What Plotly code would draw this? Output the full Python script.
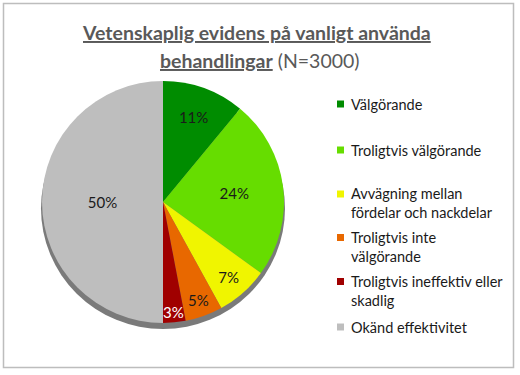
import plotly.graph_objects as go

labels = ["Välgörande", "Troligtvis välgörande", "Avvägning mellan fördelar och nackdelar",
          "Troligtvis inte välgörande", "Troligtvis ineffektiv eller skadlig", "Okänd effektivitet"]
legend_text = ["Välgörande", "Troligtvis välgörande", "Avvägning mellan<br>fördelar och nackdelar",
               "Troligtvis inte<br>välgörande", "Troligtvis ineffektiv eller<br>skadlig", "Okänd effektivitet"]
values = [11, 24, 7, 5, 3, 50]
colors = ["#008C00", "#66DD00", "#F0F500", "#E86800", "#A00000", "#BEBEBE"]
text_colors = ["#1a1a1a", "#1a1a1a", "#1a1a1a", "#1a1a1a", "#FFFFFF", "#1a1a1a"]
title_line1 = "Vetenskaplig evidens på vanligt använda"
title_line2_bold = "behandlingar"
title_line2_rest = " (N=3000)"

W, H = 520, 375
FONT = "Lato, Open Sans, sans-serif"

fig = go.Figure()
fig.add_trace(go.Pie(
    labels=labels, values=values, sort=False, direction="clockwise", rotation=0,
    marker=dict(colors=colors, line=dict(width=0)),
    texttemplate="%{value}%", textposition="inside", insidetextorientation="horizontal",
    textfont=dict(family=FONT, size=15, color=text_colors),
    domain=dict(x=[40 / W, 286 / W], y=[1 - 323 / H, 1 - 81 / H]),
    showlegend=False, hoverinfo="label+percent",
))

shapes = [
    # outer border
    dict(type="rect", xref="paper", yref="paper", x0=3.5 / W, x1=513.5 / W, y0=1 - 367.5 / H, y1=1 - 3.5 / H,
         line=dict(color="#BDBDBD", width=1.5), fillcolor="rgba(0,0,0,0)"),
    # pie shadow
    dict(type="circle", xref="paper", yref="paper", layer="below",
         x0=41 / W, x1=285 / W, y0=1 - 329 / H, y1=1 - 88 / H,
         line=dict(width=0), fillcolor="#7a7a7a"),
]

annotations = []
legend_y = [104, 150, 203, 246.5, 290.5, 327]
for txt, col, yc in zip(legend_text, colors, legend_y):
    nlines = txt.count("<br>") + 1
    ytop = yc - 9 * (nlines - 1)
    shapes.append(dict(type="rect", xref="paper", yref="paper",
                       x0=337 / W, x1=344 / W, y0=1 - (ytop + 3.5) / H, y1=1 - (ytop - 3.5) / H,
                       line=dict(width=0), fillcolor=col))
    annotations.append(dict(x=349 / W, y=1 - yc / H, xref="paper", yref="paper", text=txt,
                            showarrow=False, xanchor="left", yanchor="middle", align="left",
                            font=dict(family=FONT, size=14.5, color="#1a1a1a")))

title_font = dict(family=FONT, size=19.5, color="#595959")
annotations.append(dict(
    x=0.494, y=1 - 32 / H, xref="paper", yref="paper", showarrow=False, xanchor="center", yanchor="middle",
    text=f"<b><span style='text-decoration:underline'>{title_line1}</span></b>", font=title_font,
))
annotations.append(dict(
    x=0.5, y=1 - 60 / H, xref="paper", yref="paper", showarrow=False, xanchor="center", yanchor="middle",
    text=f"<b><span style='text-decoration:underline'>{title_line2_bold}</span></b>{title_line2_rest}",
    font=title_font,
))

fig.update_layout(
    width=W, height=H, margin=dict(l=0, r=0, t=0, b=0),
    paper_bgcolor="white", plot_bgcolor="white",
    shapes=shapes, annotations=annotations, showlegend=False,
    uniformtext=dict(minsize=15, mode="show"),
)
fig.write_html("out.html", config={"displayModeBar": False},
               post_script="document.body.style.margin='0';")
